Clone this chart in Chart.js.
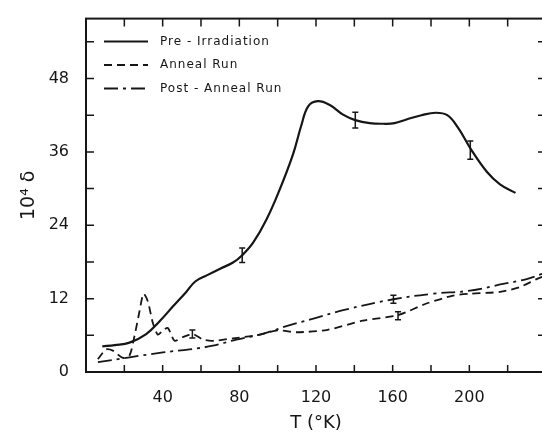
<!DOCTYPE html>
<html>
<head>
<meta charset="utf-8">
<script src="https://cdn.jsdelivr.net/npm/chart.js@4.4.1/dist/chart.umd.min.js"></script>
<style>
  html, body { margin: 0; padding: 0; background: #fff; overflow: hidden; }
  #wrap { position: absolute; left: 0; top: 0; width: 550px; height: 434px; }
</style>
</head>
<body>
<div id="wrap"><canvas id="c"></canvas></div>
<script>
// temperature (K) and 10^4 delta
const preT  = [8.5, 15, 22.7, 31.4, 38.4, 45.3, 52.3, 57, 63, 70, 76.7, 81.5, 87.1, 94.1, 101, 108, 112.4, 116, 121, 127, 134.1, 140.5, 148, 155, 161, 167.2, 175, 182.5, 188.5, 194, 201.1, 209, 216, 224.1];
const preY  = [4.2, 4.4, 4.8, 6.2, 8.3, 10.7, 13.1, 14.8, 15.8, 16.9, 17.9, 19.1, 21.1, 24.9, 29.8, 35.6, 40.4, 43.5, 44.3, 43.7, 42.1, 41.2, 40.7, 40.6, 40.7, 41.3, 42.0, 42.4, 42.0, 40.0, 36.3, 32.8, 30.7, 29.3];

const annT  = [6.2, 10.5, 14, 19.2, 22.7, 25.3, 27.9, 30, 32.3, 34.9, 37.5, 39.8, 42.7, 46.2, 50.5, 55.8, 61, 66.2, 76.7, 88.9, 100, 110, 126, 144.4, 162.8, 177.6, 191.5, 200.3, 216, 226.4, 235.1, 240];
const annY  = [2.1, 3.7, 3.5, 2.3, 2.7, 5.9, 9.9, 12.8, 11.5, 8.0, 6.1, 6.7, 7.2, 5.1, 5.7, 6.2, 5.3, 5.1, 5.5, 6.0, 6.8, 6.5, 6.9, 8.4, 9.3, 11.2, 12.5, 12.8, 13.1, 13.9, 15.2, 15.8];

const postT = [6.2, 22.7, 40.1, 54, 66.2, 78.4, 90.6, 96, 104.6, 117.2, 135.3, 160.4, 181.1, 200.3, 217.6, 229.9, 240];
const postY = [1.6, 2.4, 3.2, 3.7, 4.3, 5.3, 6.1, 6.6, 7.5, 8.6, 10.2, 11.9, 12.8, 13.3, 14.4, 15.2, 16.3];

// error bars: position, value, half-height
const preErrT  = [81.5, 140.5, 200.5];
const preErrY  = [19.1, 41.2, 36.3];
const preErrD  = [1.2, 1.3, 1.5];
const annErrT  = [55.5, 162.8];
const annErrY  = [6.2, 9.2];
const annErrD  = [0.65, 0.65];
const postErrT = [160.4];
const postErrY = [11.9];
const postErrD = [0.65];

const seriesNames = ["Pre - Irradiation", "Anneal Run", "Post - Anneal Run"];
const xTickLabels = [40, 80, 120, 160, 200];
const yTickLabels = [0, 12, 24, 36, 48];
const xMinorTicks = [20, 40, 60, 80, 100, 120, 140, 160, 180, 200, 220];
const yMinorTicks = [6, 12, 18, 24, 30, 36, 42, 48, 54];

const ink = "#161616";
const pts = (xs, ys) => xs.map((x, i) => ({ x: x, y: ys[i] }));

const errBars = [
  { t: preErrT, v: preErrY, d: preErrD },
  { t: annErrT, v: annErrY, d: annErrD },
  { t: postErrT, v: postErrY, d: postErrD }
];

const framePlugin = {
  id: "frame",
  afterDatasetsDraw(chart) {
    const { ctx, chartArea: a, scales: { x, y } } = chart;
    ctx.save();
    ctx.strokeStyle = ink;
    ctx.lineCap = "butt";

    // error bars
    ctx.lineWidth = 1.5;
    errBars.forEach(eb => {
      eb.t.forEach((t, i) => {
        const px = x.getPixelForValue(t);
        const y1 = y.getPixelForValue(eb.v[i] - eb.d[i]);
        const y2 = y.getPixelForValue(eb.v[i] + eb.d[i]);
        ctx.beginPath();
        ctx.moveTo(px, y1); ctx.lineTo(px, y2);
        ctx.moveTo(px - 3, y1); ctx.lineTo(px + 3, y1);
        ctx.moveTo(px - 3, y2); ctx.lineTo(px + 3, y2);
        ctx.stroke();
      });
    });

    // frame and inward ticks
    ctx.lineWidth = 2;
    ctx.strokeRect(a.left, a.top, a.right - a.left, a.bottom - a.top);
    ctx.lineWidth = 1.5;
    ctx.beginPath();
    xMinorTicks.forEach(v => {
      const px = x.getPixelForValue(v);
      ctx.moveTo(px, a.bottom); ctx.lineTo(px, a.bottom - 7);
      ctx.moveTo(px, a.top); ctx.lineTo(px, a.top + 8);
    });
    yMinorTicks.forEach(v => {
      const py = y.getPixelForValue(v);
      ctx.moveTo(a.left, py); ctx.lineTo(a.left + 8, py);
      ctx.moveTo(a.right, py); ctx.lineTo(a.right - 8, py);
    });
    ctx.stroke();

    // legend
    ctx.font = "12px 'DejaVu Sans'";
    ctx.fillStyle = ink;
    ctx.textBaseline = "middle";
    ctx.letterSpacing = "1px";
    chart.data.datasets.forEach((ds, i) => {
      const ly = a.top + 23 + i * 23.5;
      ctx.save();
      ctx.lineWidth = 2;
      ctx.setLineDash(ds.borderDash || []);
      ctx.beginPath();
      ctx.moveTo(a.left + 18, ly); ctx.lineTo(a.left + 62, ly);
      ctx.stroke();
      ctx.restore();
      ctx.fillText(ds.label, a.left + 74, ly);
    });
    ctx.restore();
  }
};

const tickFont = { family: "'DejaVu Sans'", size: 16 };

new Chart(document.getElementById("c"), {
  type: "line",
  data: {
    datasets: [
      { label: seriesNames[0], data: pts(preT, preY), borderColor: ink, borderWidth: 2.2, borderDash: [], pointRadius: 0, tension: 0.4 },
      { label: seriesNames[1], data: pts(annT, annY), borderColor: ink, borderWidth: 1.8, borderDash: [8, 5], pointRadius: 0, tension: 0.25 },
      { label: seriesNames[2], data: pts(postT, postY), borderColor: ink, borderWidth: 1.8, borderDash: [14, 5, 3, 5], pointRadius: 0, tension: 0.4 }
    ]
  },
  options: {
    responsive: true,
    maintainAspectRatio: false,
    animation: false,
    layout: { padding: { top: 11, right: 4, left: 0, bottom: 0 } },
    scales: {
      x: {
        type: "linear", min: 0, max: 240,
        grid: { display: false }, border: { display: false },
        afterFit: s => { s.height = 62; },
        afterBuildTicks: s => { s.ticks = xTickLabels.map(v => ({ value: v })); },
        ticks: { font: tickFont, color: ink, padding: 8, maxRotation: 0, autoSkip: false },
        title: { display: true, text: "T (°K)", color: ink, font: { family: "'DejaVu Sans'", size: 18 }, padding: 0 }
      },
      y: {
        type: "linear", min: 0, max: 57.8,
        grid: { display: false }, border: { display: false },
        afterFit: s => { s.width = 86; },
        afterBuildTicks: s => { s.ticks = yTickLabels.map(v => ({ value: v })); },
        ticks: { font: tickFont, color: ink, padding: 9, autoSkip: false },
        title: { display: true, text: "10⁴ δ", color: ink, font: { family: "'DejaVu Sans'", size: 19 }, padding: { top: 18, bottom: 0 } }
      }
    },
    plugins: { legend: { display: false }, tooltip: { enabled: false } }
  },
  plugins: [framePlugin]
});
</script>
</body>
</html>
